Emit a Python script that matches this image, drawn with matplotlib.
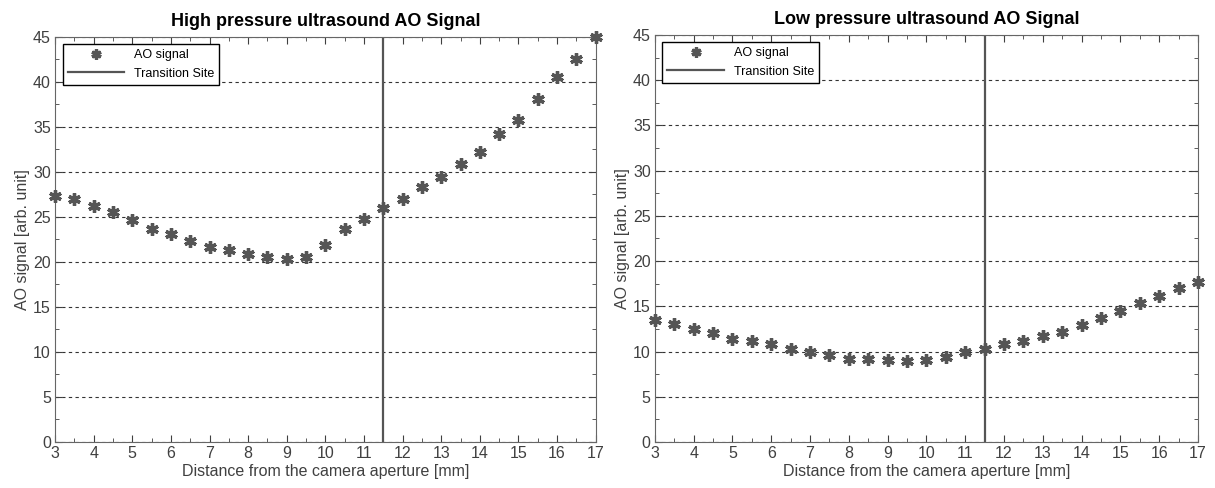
import numpy as np
import matplotlib
matplotlib.use("Agg")
import matplotlib.pyplot as plt
from matplotlib.ticker import MultipleLocator

plt.rcParams["font.family"] = ["Liberation Sans", "DejaVu Sans"]

distance = np.arange(3, 17.01, 0.5)
high_signal = [27.3, 27.0, 26.2, 25.6, 24.7, 23.7, 23.1, 22.3, 21.7, 21.3,
               20.9, 20.6, 20.3, 20.6, 21.9, 23.7, 24.8, 26.0, 27.0, 28.3,
               29.4, 30.9, 32.2, 34.2, 35.8, 38.1, 40.6, 42.6, 45.0]
low_signal = [13.5, 13.1, 12.5, 12.1, 11.4, 11.2, 10.8, 10.3, 10.0, 9.6,
              9.2, 9.2, 9.1, 8.9, 9.1, 9.4, 9.9, 10.3, 10.8, 11.2,
              11.7, 12.2, 12.9, 13.7, 14.5, 15.4, 16.1, 17.0, 17.7]
transition = 11.5
titles = ["High pressure ultrasound AO Signal", "Low pressure ultrasound AO Signal"]

grey = "#555555"
txt = "#404040"

fig = plt.figure(figsize=(12.15, 4.88), dpi=100)
boxes = [[0.0453, 0.0943, 0.445, 0.830], [0.539, 0.0943, 0.447, 0.834]]

for box, sig, title in zip(boxes, [high_signal, low_signal], titles):
    ax = fig.add_axes(box)
    ax.plot(distance, sig, linestyle="none", marker=(6, 2, 0), ms=9,
            mew=2.4, color=grey, label="AO signal", clip_on=False, zorder=3)
    ax.axvline(transition, color=grey, lw=1.6, label="Transition Site")
    ax.set_xlim(3, 17)
    ax.set_ylim(0, 45)
    ax.xaxis.set_major_locator(MultipleLocator(1))
    ax.xaxis.set_minor_locator(MultipleLocator(0.5))
    ax.yaxis.set_major_locator(MultipleLocator(5))
    ax.yaxis.set_minor_locator(MultipleLocator(2.5))
    ax.tick_params(which="both", direction="in", top=True, right=True,
                   colors=txt, labelsize=11.5, pad=3)
    ax.tick_params(which="major", length=5)
    ax.tick_params(which="minor", length=3)
    ax.grid(axis="y", which="major", linestyle=(0, (3, 3)), color="#333333", lw=0.8)
    for s in ax.spines.values():
        s.set_color("#666666")
    ax.set_xlabel("Distance from the camera aperture [mm]", fontsize=11.5,
                  color=txt, labelpad=2)
    ax.set_ylabel("AO signal [arb. unit]", fontsize=11.5, color=txt, labelpad=2)
    ax.set_title(title, fontsize=13, fontweight="bold", pad=8)
    leg = ax.legend(loc="upper left", fontsize=9, fancybox=False,
                    edgecolor="black", framealpha=1, borderaxespad=0.6,
                    handlelength=4.5, markerscale=0.8)
    leg.get_frame().set_linewidth(1.0)

fig.savefig("out.png", dpi=100)
